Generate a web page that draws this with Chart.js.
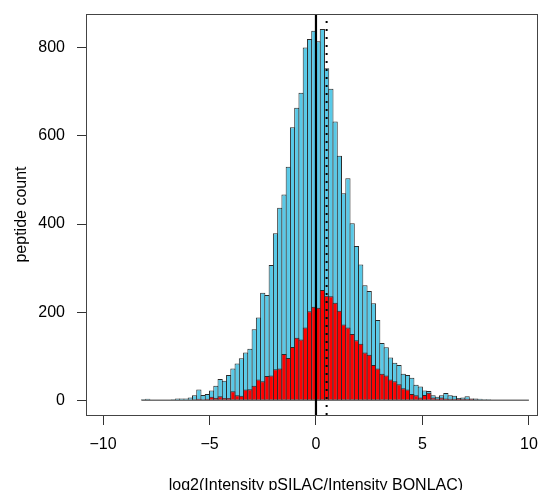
<!DOCTYPE html>
<html>
<head>
<meta charset="utf-8">
<script src="https://cdn.jsdelivr.net/npm/chart.js@4/dist/chart.umd.min.js"></script>
<style>
  html, body { margin: 0; padding: 0; background: #fff; }
  #wrap { width: 542px; height: 490px; }
</style>
</head>
<body>
<div id="wrap"><canvas id="histChart" width="542" height="490"></canvas></div>
<script>
// histogram bins: 0.2 wide, first bin starts at -8.2
const binWidth = 0.2;
const firstBin = -8.2;

// all peptides (blue)
const allCounts = [
  2, 3, 0, 0, 1, 1, 0, 2, 4, 4,
  4, 6, 11, 24, 12, 14, 22, 33, 48, 44,
  57, 72, 83, 95, 108, 117, 161, 188, 244, 239,
  307, 379, 437, 467, 530, 620, 664, 698, 801, 820,
  839, 815, 843, 754, 707, 633, 555, 470, 504, 402,
  350, 308, 261, 248, 220, 182, 130, 120, 97, 85,
  80, 60, 57, 51, 35, 31, 22, 21, 11, 8,
  11, 16, 11, 10, 5, 6, 9, 4, 4, 3,
  2, 2, 1, 1, 1, 0, 1, 1, 0, 1,
  1
];

// subset (red)
const subsetCounts = [
  1, 0, 0, 0, 0, 0, 0, 1, 0, 1,
  0, 1, 2, 3, 2, 3, 8, 5, 9, 5,
  5, 20, 11, 10, 24, 25, 33, 47, 43, 55,
  56, 70, 72, 105, 96, 121, 142, 138, 165, 202,
  212, 210, 250, 237, 236, 221, 203, 172, 165, 150,
  136, 128, 108, 103, 80, 72, 60, 56, 47, 43,
  36, 27, 24, 14, 11, 6, 12, 17, 6, 4,
  6, 4, 3, 3, 4, 3, 3, 3, 2, 1,
  1, 1, 1, 0, 1, 0, 0, 1, 0, 0,
  1
];

const xTicks = [-10, -5, 0, 5, 10];
const yTicks = [0, 200, 400, 600, 800];
const zeroLine = 0;
const dottedLine = 0.5;

// bin centres
const binCentres = allCounts.map((_, i) => firstBin + (i + 0.5) * binWidth);
const toPoints = arr => arr.map((v, i) => ({ x: binCentres[i], y: v }));

const minus = v => (v < 0 ? '\u2212' + Math.abs(v) : String(v));

// frame, zero baseline and the two vertical lines
const extras = {
  id: 'extras',
  afterDatasetsDraw(chart) {
    const { ctx, chartArea, scales: { x, y } } = chart;
    const y0 = y.getPixelForValue(0);
    ctx.save();
    // zero-height bins give a flat line in R
    ctx.strokeStyle = '#2a2a2a';
    ctx.lineWidth = 1;
    ctx.beginPath();
    ctx.moveTo(x.getPixelForValue(firstBin), y0);
    ctx.lineTo(x.getPixelForValue(firstBin + allCounts.length * binWidth), y0);
    ctx.stroke();

    const xs = x.getPixelForValue(zeroLine);
    ctx.strokeStyle = '#000';
    ctx.lineWidth = 2.2;
    ctx.beginPath();
    ctx.moveTo(xs, chartArea.top);
    ctx.lineTo(xs, chartArea.bottom);
    ctx.stroke();

    const xd = x.getPixelForValue(dottedLine);
    ctx.lineWidth = 2;
    ctx.setLineDash([2, 6]);
    ctx.beginPath();
    ctx.moveTo(xd, chartArea.bottom);
    ctx.lineTo(xd, chartArea.top);
    ctx.stroke();
    ctx.restore();
  },
  afterDraw(chart) {
    const { ctx, chartArea: a } = chart;
    ctx.save();
    ctx.strokeStyle = '#444';
    ctx.lineWidth = 1;
    ctx.strokeRect(Math.round(a.left) + 0.5, Math.round(a.top) + 0.5,
      Math.round(a.right - a.left), Math.round(a.bottom - a.top));
    ctx.restore();
  }
};

Chart.defaults.font.family = '"Liberation Sans", Arial, sans-serif';
Chart.defaults.font.size = 16;
Chart.defaults.color = '#000';

const ctx = document.getElementById('histChart').getContext('2d');
const histChart = new Chart(ctx, {
  type: 'bar',
  data: {
    datasets: [
      {
        label: 'all',
        data: toPoints(allCounts),
        backgroundColor: '#58C9E7',
        borderColor: '#2a2a2a',
        borderWidth: 1,
        order: 2
      },
      {
        label: 'subset',
        data: toPoints(subsetCounts),
        backgroundColor: '#FF0000',
        borderColor: '#2a2a2a',
        borderWidth: 1,
        order: 1
      }
    ]
  },
  options: {
    responsive: false,
    animation: false,
    devicePixelRatio: 1,
    layout: { padding: { top: 14, right: 5, left: 0, bottom: 0 } },
    datasets: {
      bar: {
        grouped: false,
        categoryPercentage: 1,
        barPercentage: 1.23,
        inflateAmount: 0
      }
    },
    scales: {
      x: {
        type: 'linear',
        min: -10.8,
        max: 10.38,
        bounds: 'data',
        offset: false,
        // fixed axis height, no extra side padding for the end labels
        afterFit: s => { s.height = 75; s.paddingLeft = 0; s.paddingRight = 0; },
        afterBuildTicks: s => { s.ticks = xTicks.map(v => ({ value: v })); },
        ticks: { padding: 10, color: '#000', callback: v => minus(v), maxRotation: 0, autoSkip: false },
        grid: { offset: false, drawOnChartArea: false, drawTicks: true, tickLength: 10, color: '#333' },
        border: { display: true, color: '#444' },
        title: {
          display: true,
          text: '  log2(Intensity pSILAC/Intensity BONLAC)',
          color: '#000',
          padding: { top: 0, bottom: -5 }
        }
      },
      y: {
        min: -33.7,
        max: 877,
        bounds: 'data',
        // fixed axis width; drop the label half-height padding so the plot top sits at 14px
        afterFit: s => { s.width = 86; s.paddingTop = 0; s.paddingBottom = 0; },
        afterBuildTicks: s => { s.ticks = yTicks.map(v => ({ value: v })); },
        ticks: { padding: 12, color: '#000' },
        grid: { drawOnChartArea: false, drawTicks: true, tickLength: 9, color: '#333' },
        border: { display: true, color: '#444' },
        title: {
          display: true,
          text: 'peptide count',
          color: '#000',
          padding: { top: 12, bottom: 0 }
        }
      }
    },
    plugins: {
      legend: { display: false },
      tooltip: { enabled: false }
    }
  },
  plugins: [extras]
});
</script>
</body>
</html>
